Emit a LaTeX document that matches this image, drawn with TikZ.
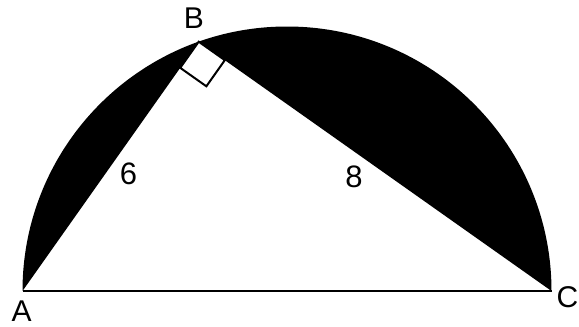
\documentclass[tikz,border=0pt]{standalone}
\usepackage{fontspec}
\setmainfont{Liberation Sans}
\usetikzlibrary{calc}
\begin{document}
\begin{tikzpicture}[x=1pt,y=-1pt,
  lbl/.style={font=\fontsize{30}{30}\selectfont, inner sep=0pt},
  num/.style={font=\fontsize{31}{31}\selectfont, inner sep=0pt}]
\useasboundingbox (0,0) rectangle (579,327);
\coordinate (O) at (287,291);
\coordinate (A) at (22.5,291);
\coordinate (C) at (551.5,291);
\coordinate (B) at (198.7,41.7);
% shaded segments
\fill[black] (A) arc[start angle=180, end angle=360, radius=264.5] -- (B) -- cycle;
% diameter
\draw[line width=2pt] (A) -- (C);
% right angle mark
\coordinate (P) at ($(B)!32pt!(A)$);
\coordinate (Q) at ($(B)!32pt!(C)$);
\coordinate (R) at ($(P)+(Q)-(B)$);
\draw[line width=2pt, fill=white, line join=miter] (B) -- (P) -- (R) -- (Q) -- cycle;
% labels
\node[lbl] (la) at (21.7,311.5) {A};
\node[lbl] (lb) at (194,18) {B};
\node[lbl] (lc) at (567.5,296.7) {C};
\node[num] (l6) at (128.5,174) {6};
\node[num] (l8) at (354,176.7) {8};
\end{tikzpicture}
\end{document}
